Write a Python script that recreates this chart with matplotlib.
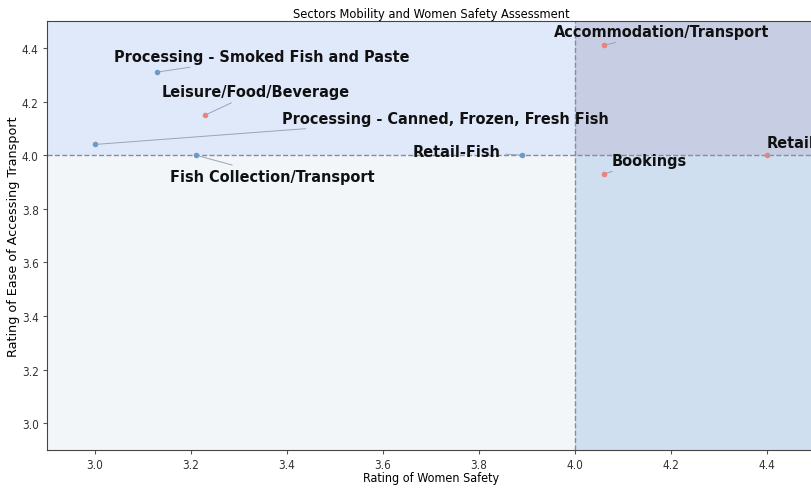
import matplotlib
matplotlib.use("Agg")
import matplotlib.pyplot as plt
from matplotlib.patches import Rectangle

sectors = ["Processing - Smoked Fish and Paste", "Leisure/Food/Beverage",
           "Processing - Canned, Frozen, Fresh Fish", "Fish Collection/Transport",
           "Retail-Fish", "Accommodation/Transport", "Bookings", "Retail"]
safety = [3.13, 3.23, 3.00, 3.21, 3.89, 4.06, 4.06, 4.40]
transport = [4.31, 4.15, 4.04, 4.00, 4.00, 4.41, 3.93, 4.00]
group = ["fish", "other", "fish", "fish", "fish", "other", "other", "other"]
label_x = [3.347, 3.335, 3.730, 3.370, 3.753, 4.181, 4.154, 4.449]
label_y = [4.368, 4.238, 4.138, 3.922, 4.015, 4.461, 3.981, 4.048]
ticks = [3.0, 3.2, 3.4, 3.6, 3.8, 4.0, 4.2, 4.4]
split = 4.0
lims = (2.9, 4.5)

narrow = dict(family="DejaVu Sans", fontstretch="condensed")

fig = plt.figure(figsize=(8.11, 4.89), dpi=100)
ax = fig.add_axes([0.058, 0.0777, 0.947, 0.877])
ax.set_xlim(*lims)
ax.set_ylim(*lims)

# quadrant backgrounds split at the 4.0 rating on both axes
quads = [((lims[0], split), (split, lims[1]), "#e0e9fa"),
         ((split, lims[1]), (split, lims[1]), "#c7cde2"),
         ((split, lims[1]), (lims[0], split), "#cfdfef"),
         ((lims[0], split), (lims[0], split), "#f3f6f8")]
for (x0, x1), (y0, y1), c in quads:
    ax.add_patch(Rectangle((x0, y0), x1 - x0, y1 - y0, color=c, lw=0, zorder=0))
ax.axvline(split, color="#858f9c", ls="--", lw=1.0, zorder=1)
ax.axhline(split, color="#858f9c", ls="--", lw=1.0, zorder=1)

for s, x, y, g, lx, ly in zip(sectors, safety, transport, group, label_x, label_y):
    ax.scatter(x, y, s=16, color="#6f99c4" if g == "fish" else "#f08078",
               lw=0, zorder=3)
    ax.annotate(s, (x, y), xytext=(lx, ly), ha="center", va="center",
                fontsize=11.6, fontweight="bold", color="#111111", **narrow,
                arrowprops=dict(arrowstyle="-", color="#98a4b8", lw=0.7))

ax.set_xticks(ticks)
ax.set_yticks(ticks)
ax.tick_params(length=3, pad=3, color="#555555", labelcolor="#333333")
for lab in ax.get_xticklabels() + ax.get_yticklabels():
    lab.set_fontsize(8.5)
    lab.set_fontstretch("condensed")
for sp in ax.spines.values():
    sp.set_color("#444444")
ax.set_title("Sectors Mobility and Women Safety Assessment", fontsize=9.2, pad=3,
             **narrow)
ax.set_xlabel("Rating of Women Safety", fontsize=9.0, labelpad=0, **narrow)
ax.set_ylabel("Rating of Ease of Accessing Transport", fontsize=9.2, labelpad=1)

fig.savefig("out.png")
